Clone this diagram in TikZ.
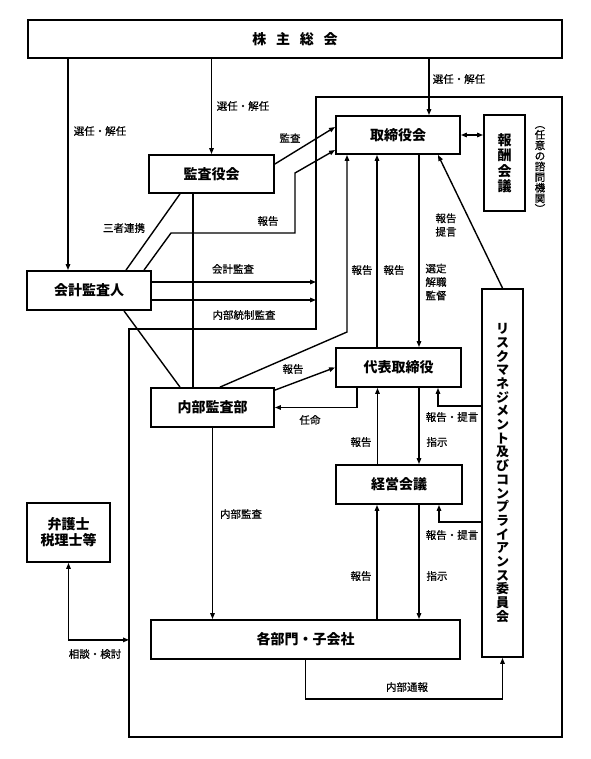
\documentclass[tikz,border=0pt]{standalone}
\usepackage{fontspec}
\setmainfont{Noto Sans CJK JP}
\newfontfamily\lblfont{Noto Sans CJK JP}[FakeBold=0.6]
\usetikzlibrary{arrows.meta}
\begin{document}
\begin{tikzpicture}[x=1pt,y=-1pt,
  box/.style={draw, line width=1.8pt, inner sep=0pt, align=center,
    font=\bfseries\fontsize{14}{16}\selectfont},
  lbl/.style={inner sep=0pt, align=center, font=\lblfont\fontsize{10.5}{13.5}\selectfont},
  conn/.style={line width=1.4pt},
  arr/.style={conn, -{Triangle[length=6pt,width=4.5pt]}},
  darr/.style={conn, {Triangle[length=6pt,width=4.5pt]}-{Triangle[length=6pt,width=4.5pt]}},
  frame/.style={line width=1.8pt}
]
\useasboundingbox (0,0) rectangle (590,759);
\fill[white] (0,0) rectangle (590,759);

% outer frame
\coordinate (fTL) at (316,97);
\coordinate (fTR) at (562,97);
\coordinate (fBR) at (562,737);
\coordinate (fBL) at (129,737);
\coordinate (fML) at (129,329);
\coordinate (fMR) at (316,329);
\draw[frame] (fTL) -- (fTR) -- (fBR) -- (fBL) -- (fML) -- (fMR) -- cycle;

% boxes
\node[box, minimum width=534pt, minimum height=38pt] (kabu) at (295,39)
  {株\hspace{0.7em}主\hspace{0.7em}総\hspace{0.7em}会};
\node[box, minimum width=125pt, minimum height=38pt] (kansa) at (211.5,174) {監査役会};
\node[box, minimum width=124pt, minimum height=38pt] (tori) at (398,135) {取締役会};
\node[box, minimum width=41pt, minimum height=96pt,
  font=\bfseries\fontsize{14}{15.5}\selectfont] (hoshu) at (504.5,163) {報\\酬\\会\\議};
\node[box, minimum width=124pt, minimum height=39pt] (kaikei) at (89,290.5) {会計監査人};
\node[box, minimum width=123pt, minimum height=39pt] (naibu) at (212.5,407.5) {内部監査部};
\node[box, minimum width=125pt, minimum height=39pt] (daihyo) at (398.5,367.5) {代表取締役};
\node[box, minimum width=126pt, minimum height=39pt] (keiei) at (399,484.5) {経営会議};
\node[box, minimum width=309pt, minimum height=39pt] (kakubu) at (305.5,639.5) {各部門・子会社};
\node[box, minimum width=41pt, minimum height=368pt,
  font=\bfseries\fontsize{13}{13.7}\selectfont] (risk) at (502.5,473)
  {リ\\ス\\ク\\マ\\ネ\\ジ\\メ\\ン\\ト\\及\\び\\コ\\ン\\プ\\ラ\\イ\\ア\\ン\\ス\\委\\員\\会};
\node[box, minimum width=83pt, minimum height=59pt] (bengo) at (68.5,532.5) {弁護士\\税理士等};

\node[lbl, font=\lblfont\fontsize{10.5}{10.6}\selectfont] (shimon) at (540,169.5)
  {︵\\任\\意\\の\\諮\\問\\機\\関\\︶};

% connectors from 株主総会
\draw[arr] ([xshift=-21pt]kaikei.north |- kabu.south) -- ([xshift=-21pt]kaikei.north);
\node[lbl] at (100,131) {選任・解任};
\draw[arr] (kansa.north |- kabu.south) -- (kansa.north);
\node[lbl] at (243,106) {選任・解任};
\draw[arr] ([xshift=31pt]tori.north |- kabu.south) -- ([xshift=31pt]tori.north);
\node[lbl] at (459,79) {選任・解任};

% 監査役会 -> 取締役会
\draw[arr] ([yshift=10pt]kansa.east) -- ([yshift=8pt]tori.west);
\node[lbl] at (290,138) {監査};

% 会計監査人 -> 取締役会 (報告)
\draw[arr] ([xshift=55pt]kaikei.north) -- (171,233) -- (295,233) -- (295,173) -- ([yshift=-15pt]tori.west);
\node[lbl] at (268,221) {報告};

% 三者連携
\draw[conn] ([xshift=-31.5pt]kansa.south) -- ([xshift=37pt]kaikei.north);
\node[lbl] at (124,228) {三者連携};
\draw[conn] ([xshift=35pt]kaikei.south) -- ([xshift=-32.5pt]naibu.north);
\draw[conn] ([xshift=-18.5pt]kansa.south) -- ([xshift=-18.5pt]kansa.south |- naibu.north);

% 会計監査人 -> frame
\draw[arr] ([yshift=8.5pt]kaikei.east) -- ([yshift=8.5pt]kaikei.east -| fTL);
\node[lbl] at (233,269) {会計監査};
\draw[arr] ([yshift=-9.5pt]kaikei.east) -- ([yshift=-9.5pt]kaikei.east -| fTL);
\node[lbl] at (244,315) {内部統制監査};

% 内部監査部 -> 取締役会 (報告)
\draw[arr] ([xshift=7.5pt]naibu.north) -- (347,332) -- ([xshift=-51pt]tori.south);
\node[lbl] at (362,270) {報告};
% 内部監査部 -> 代表取締役 (報告)
\draw[arr] ([yshift=-3pt]naibu.north east) -- (daihyo.west);
\node[lbl] at (293,369) {報告};
% 代表取締役 -> 内部監査部 (任命)
\draw[arr] ([xshift=-41.5pt]daihyo.south) -- ([xshift=-41.5pt]daihyo.south |- naibu.east) -- (naibu.east);
\node[lbl] at (310,420) {任命};

% 代表取締役 <-> 取締役会
\draw[arr] ([xshift=-21.5pt]daihyo.north) -- ([xshift=-21.5pt]daihyo.north |- tori.south);
\node[lbl] at (394,270) {報告};
\draw[arr] ([xshift=21pt]tori.south) -- ([xshift=21pt]tori.south |- daihyo.north);
\node[lbl] at (436,282) {選定\\解職\\監督};

% リスク -> 取締役会
\draw[arr] (risk.north) -- ([xshift=40pt]tori.south);
\node[lbl] at (446,225) {報告\\提言};

% 取締役会 <-> 報酬会議
\draw[darr] (tori.east) -- (tori.east -| hoshu.west);

% リスク -> 代表取締役
\draw[arr] ([yshift=67pt]risk.west) -- ([xshift=39.5pt,yshift=67pt]daihyo.south |- risk.west) -- ([xshift=39.5pt]daihyo.south);
\node[lbl] at (452,417) {報告・提言};

% 代表取締役 <-> 経営会議
\draw[arr] ([xshift=20.5pt]daihyo.south) -- ([xshift=20.5pt]daihyo.south |- keiei.north);
\node[lbl] at (437,442) {指示};
\draw[arr] ([xshift=-21.5pt]keiei.north) -- ([xshift=-21.5pt]keiei.north |- daihyo.south);
\node[lbl] at (361,442) {報告};

% リスク -> 経営会議
\draw[arr] ([yshift=-49pt]risk.west) -- ([xshift=40pt,yshift=-49pt]keiei.south |- risk.west) -- ([xshift=40pt]keiei.south);
\node[lbl] at (452,535) {報告・提言};

% 経営会議 <-> 各部門
\draw[arr] ([xshift=-22pt]keiei.south |- kakubu.north) -- ([xshift=-22pt]keiei.south);
\node[lbl] at (361,576) {報告};
\draw[arr] ([xshift=20pt]keiei.south) -- ([xshift=20pt]keiei.south |- kakubu.north);
\node[lbl] at (437,576) {指示};

% 内部監査部 -> 各部門
\draw[arr] (naibu.south) -- (naibu.south |- kakubu.north);
\node[lbl] at (241,514) {内部監査};

% 各部門 -> リスク (内部通報)
\draw[arr] (kakubu.south) -- ([yshift=-39pt]kakubu.south) -- ([yshift=-41pt]risk.south) -- (risk.south);
\node[lbl] at (407,687) {内部通報};

% 弁護士 <-> frame
\draw[darr] (bengo.south) -- ([yshift=-77pt]bengo.south) -- ([yshift=-77pt]bengo.south -| fBL);
\node[lbl] at (95,654) {相談・検討};
\end{tikzpicture}
\end{document}
